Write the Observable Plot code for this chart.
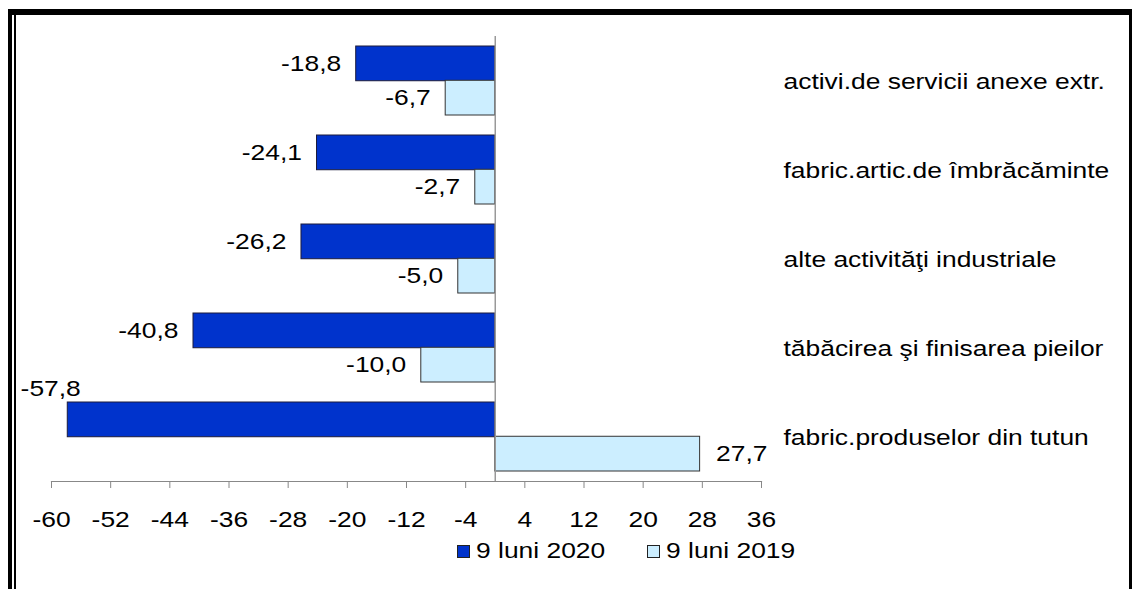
<!DOCTYPE html>
<html>
<head>
<meta charset="utf-8">
<script src="https://cdn.jsdelivr.net/npm/d3@7"></script>
<script src="https://cdn.jsdelivr.net/npm/@observablehq/plot@0.6"></script>
<style>
  html, body { margin: 0; padding: 0; background: #fff; }
  body { width: 1134px; height: 589px; position: relative; overflow: hidden;
         font-family: "Liberation Sans", Arial, sans-serif; }
  #chart { position: absolute; left: 0; top: 0; }
  .border-outer { position: absolute; left: 8px; top: 9px; width: 1124px; height: 620px;
         box-sizing: border-box; border-top: 6px solid #000; border-left: 4px solid #000; border-right: 3px solid #000; }
  .border-inner { position: absolute; left: 14px; top: 15px; width: 2px; height: 620px; background: #000; }
  #legend { position: absolute; left: 0; top: 0; width: 1134px; height: 589px; pointer-events: none; }
  .lg-item { position: absolute; top: 537px; height: 28px; display: flex; align-items: center; }
  .lg-swatch { width: 13px; height: 13px; box-sizing: border-box; border: 1px solid #222; margin-right: 6px; }
  .lg-text { display: inline-block; font-size: 22px; line-height: 28px; color: #000; transform: scaleX(1.2); transform-origin: left center; white-space: nowrap; }
</style>
</head>
<body>
<div id="chart"></div>
<div class="border-outer"></div>
<div class="border-inner"></div>
<div id="legend"></div>
<script>
// ---- data ----
const categories = [
  "activi.de servicii anexe extr.",
  "fabric.artic.de îmbrăcăminte",
  "alte activităţi industriale",
  "tăbăcirea şi finisarea pieilor",
  "fabric.produselor din tutun"
];
const series = ["9 luni 2020", "9 luni 2019"];
const values2020 = [-18.8, -24.1, -26.2, -40.8, -57.8];
const values2019 = [-6.7, -2.7, -5.0, -10.0, 27.7];
const xTicks = [-60, -52, -44, -36, -28, -20, -12, -4, 4, 12, 20, 28, 36];
const colors = ["#0033cc", "#cceeff"];

// ---- layout ----
const W = 1134, H = 535;
const mT = 36, axisY = 481, mB = H - axisY;
const mL = 51, mR = W - 761;
const pi = 0.23, po = 0.115;
const step = (H - mB - mT) / (categories.length - pi + 2 * po);
const bw = step * (1 - pi);
const STRETCH = 1.2;

const fmt = v => v.toFixed(1).replace(".", ",");
const rows2020 = categories.map((c, i) => ({cat: c, v: values2020[i]}));
const rows2019 = categories.map((c, i) => ({cat: c, v: values2019[i]}));
const xmin = xTicks[0];
const fits = d => d.v > xmin + 8;

const font = '"Liberation Sans", Arial, sans-serif';

const plot = Plot.plot({
  width: W, height: H,
  marginLeft: mL, marginRight: mR, marginTop: mT, marginBottom: mB,
  style: {fontFamily: font, fontSize: "22px", color: "#000", background: "transparent", overflow: "visible"},
  x: {domain: [xTicks[0], xTicks[xTicks.length - 1]], axis: null, label: null},
  y: {type: "band", domain: categories, paddingInner: pi, paddingOuter: po, axis: null, label: null},
  marks: [
    Plot.barX(rows2020, {y: "cat", x1: 0, x2: "v", fill: colors[0], stroke: "#1c1c3c", strokeWidth: 1, insetBottom: bw / 2}),
    Plot.barX(rows2019, {y: "cat", x1: 0, x2: "v", fill: colors[1], stroke: "#333", strokeWidth: 1, insetTop: bw / 2}),
    Plot.ruleX([0], {stroke: "#999", strokeWidth: 1.5}),
    Plot.frame({anchor: "bottom", stroke: "#888", strokeWidth: 1.2}),
    Plot.axisX({ticks: xTicks, tickSize: 7, tickPadding: 23, tickFormat: d => String(d), stroke: "#888", fill: "#000", label: null}),
    // value labels 2020
    Plot.text(rows2020.filter(fits), {y: "cat", x: "v", text: d => fmt(d.v), textAnchor: "end", dx: -15, dy: -bw / 4, fill: "#000"}),
    Plot.text(rows2020.filter(d => !fits(d)), {y: "cat", x: "v", text: d => fmt(d.v), textAnchor: "end", dx: 13, dy: -bw / 4 - 31, fill: "#000"}),
    // value labels 2019
    Plot.text(rows2019.filter(d => d.v < 0), {y: "cat", x: "v", text: d => fmt(d.v), textAnchor: "end", dx: -15, dy: bw / 4, fill: "#000"}),
    Plot.text(rows2019.filter(d => d.v >= 0), {y: "cat", x: "v", text: d => fmt(d.v), textAnchor: "start", dx: 16, dy: bw / 4, fill: "#000"}),
    // category labels on the right
    Plot.text(categories, {y: d => d, text: d => d, frameAnchor: "right", textAnchor: "start", dx: 22, dy: 1, fill: "#000"})
  ]
});
document.getElementById("chart").appendChild(plot);

// horizontally widen glyphs as in the reference rendering
plot.querySelectorAll("text").forEach(t => {
  const L = t.getComputedTextLength();
  if (L > 0) {
    t.setAttribute("textLength", (L * STRETCH).toFixed(2));
    t.setAttribute("lengthAdjust", "spacingAndGlyphs");
  }
});

// legend
const legend = document.getElementById("legend");
const lgLeft = [457, 647];
series.forEach((s, i) => {
  const item = document.createElement("div");
  item.className = "lg-item";
  item.style.left = lgLeft[i] + "px";
  const sw = document.createElement("span");
  sw.className = "lg-swatch";
  sw.style.background = colors[i];
  const tx = document.createElement("span");
  tx.className = "lg-text";
  tx.textContent = s;
  item.appendChild(sw);
  item.appendChild(tx);
  legend.appendChild(item);
});
</script>
</body>
</html>
